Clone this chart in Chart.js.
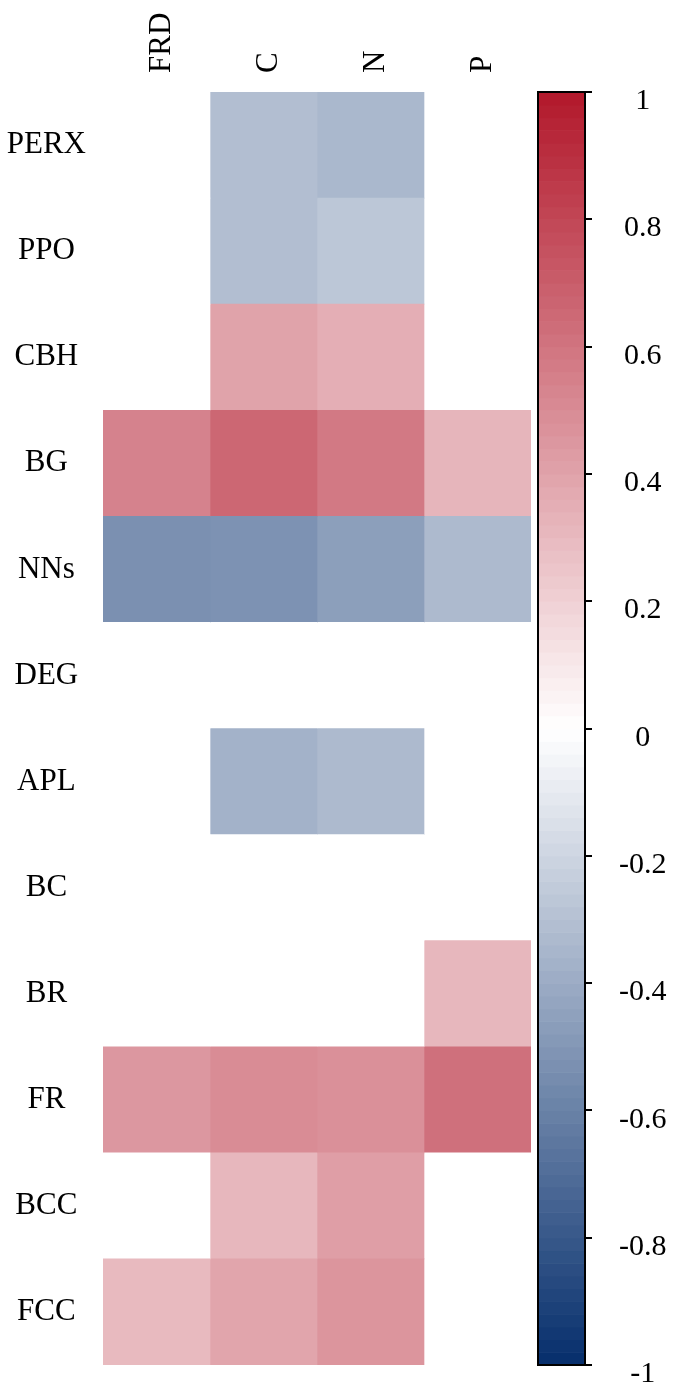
<!DOCTYPE html>
<html>
<head>
<meta charset="utf-8">
<script src="https://cdn.jsdelivr.net/npm/chart.js@4"></script>
<style>
  html, body { margin: 0; padding: 0; background: #fff; }
  #wrap { position: relative; width: 673px; height: 1386px; }
  #heat { position: absolute; left: 0; top: 0; }
  #bar { position: absolute; left: 530px; top: 0; }
</style>
</head>
<body>
<div id="wrap">
  <canvas id="heat" width="535" height="1386"></canvas>
  <canvas id="bar" width="143" height="1386"></canvas>
</div>
<script>
// rows top to bottom, columns left to right
const rows = ['PERX', 'PPO', 'CBH', 'BG', 'NNs', 'DEG', 'APL', 'BC', 'BR', 'FR', 'BCC', 'FCC'];
const cols = ['FRD', 'C', 'N', 'P'];

// correlation per column (0 = blank cell)
const valFRD = [0, 0, 0, 0.54, -0.53, 0, 0, 0, 0, 0.45, 0, 0.30];
const valC   = [-0.31, -0.31, 0.40, 0.66, -0.52, 0, -0.37, 0, 0, 0.50, 0.31, 0.39];
const valN   = [-0.34, -0.27, 0.35, 0.58, -0.46, 0, -0.33, 0, 0, 0.48, 0.42, 0.46];
const valP   = [0, 0, 0, 0.32, -0.33, 0, 0, 0, 0.31, 0.62, 0, 0];

// colour bar ticks
const cbTicks = [-1, -0.8, -0.6, -0.4, -0.2, 0, 0.2, 0.4, 0.6, 0.8, 1];

const NEG = [5, 46, 108];
const POS = [178, 24, 43];
function colorFor(v) {
    const t = Math.min(1, Math.abs(v));
    const end = v < 0 ? NEG : POS;
    const c = end.map(e => Math.round(255 + (e - 255) * t));
    return 'rgb(' + c[0] + ',' + c[1] + ',' + c[2] + ')';
}

const serif = 'Liberation Serif';
const values = [valFRD, valC, valN, valP];

// keep the chart area where the original has it (no label overhang padding)
function noPad(s) {
    s.paddingTop = 0; s.paddingBottom = 0; s.paddingLeft = 0; s.paddingRight = 0;
}

// heatmap: horizontal stacked bars, one dataset per column
new Chart(document.getElementById('heat').getContext('2d'), {
    type: 'bar',
    data: {
        labels: rows,
        datasets: cols.map((name, j) => ({
            label: name,
            data: rows.map(() => 1),
            backgroundColor: values[j].map(colorFor),
            borderWidth: 0,
            categoryPercentage: 1,
            barPercentage: 1
        }))
    },
    options: {
        indexAxis: 'y',
        responsive: false,
        animation: false,
        layout: { padding: { left: 0, right: 4, top: 0, bottom: 21 } },
        plugins: { legend: { display: false }, tooltip: { enabled: false } },
        scales: {
            x: {
                type: 'linear',
                position: 'top',
                stacked: true,
                min: 0,
                max: 4,
                grid: { display: false, drawTicks: false },
                border: { display: false },
                // rotated glyphs sit a bit left of the anchor, nudge them back over the column centre
                afterBuildTicks: s => { s.ticks = cols.map((c, i) => ({ value: i + 0.55 })); },
                afterFit: s => { s.height = 92; noPad(s); },
                ticks: {
                    autoSkip: false,
                    minRotation: 90,
                    maxRotation: 90,
                    padding: 19,
                    color: '#000',
                    font: { family: serif, size: 31, lineHeight: 0.01 },
                    callback: (v, i) => cols[i]
                }
            },
            y: {
                stacked: true,
                grid: { display: false, drawTicks: false },
                border: { display: false },
                afterFit: s => { s.width = 103; noPad(s); },
                ticks: {
                    crossAlign: 'center',
                    padding: 17,
                    color: '#000',
                    font: { family: serif, size: 31 }
                }
            }
        }
    }
});

// colour bar drawn against its own y scale
const colorbarPlugin = {
    id: 'colorbar',
    beforeDatasetsDraw(chart) {
        const { ctx, chartArea: a, scales: { y } } = chart;
        const steps = 100;
        for (let i = 0; i < steps; i++) {
            const v0 = -1 + 2 * i / steps;
            const v1 = -1 + 2 * (i + 1) / steps;
            const p0 = y.getPixelForValue(v0);
            const p1 = y.getPixelForValue(v1);
            ctx.fillStyle = colorFor((v0 + v1) / 2);
            ctx.fillRect(a.left, p1, a.right - a.left, p0 - p1 + 0.6);
        }
        ctx.strokeStyle = '#000';
        ctx.lineWidth = 2;
        ctx.strokeRect(a.left, a.top, a.right - a.left, a.bottom - a.top);
    }
};

new Chart(document.getElementById('bar').getContext('2d'), {
    type: 'scatter',
    data: { datasets: [{ data: [] }] },
    plugins: [colorbarPlugin],
    options: {
        responsive: false,
        animation: false,
        layout: { padding: { left: 8, right: 0, top: 92, bottom: 21 } },
        plugins: { legend: { display: false }, tooltip: { enabled: false } },
        scales: {
            x: { display: false, min: 0, max: 1 },
            y: {
                position: 'right',
                min: -1,
                max: 1,
                afterBuildTicks: s => { s.ticks = cbTicks.map(v => ({ value: v })); },
                afterFit: s => { s.width = 88; noPad(s); },
                grid: { drawOnChartArea: false, tickLength: 7, color: '#000', lineWidth: 2 },
                border: { display: true, color: '#000', width: 2 },
                ticks: {
                    crossAlign: 'center',
                    padding: 27,
                    color: '#000',
                    font: { family: serif, size: 30, lineHeight: 0.62 },
                    // empty first line pushes the number a little below the tick, like the original
                    callback: v => ['', String(v)]
                }
            }
        }
    }
});
</script>
</body>
</html>
